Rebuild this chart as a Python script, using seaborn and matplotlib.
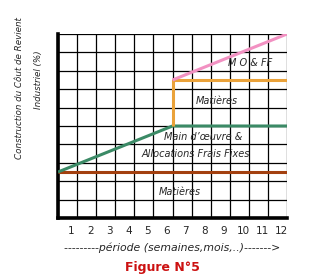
import matplotlib
matplotlib.use("Agg")
import matplotlib.pyplot as plt
import seaborn as sns
import numpy as np
import pandas as pd

sns.set_theme(style="white")
plt.rcParams['font.family'] = ['DejaVu Sans']

# Data
periods = list(range(1, 13))
tick_labels = [str(p) for p in periods]

brown_x = [0, 12]
brown_y = [2.5, 2.5]
green_x = [0, 6, 12]
green_y = [2.5, 5, 5]
orange_x = [6, 6, 12]
orange_y = [5, 7.5, 7.5]
pink_x = [6, 12]
pink_y = [7.5, 10]

labels = ["M O & FF", "Matières", "Main d\u2019\u0153uvre &", "Allocations Frais Fixes", "Matières"]
label_x = [10.05, 8.3, 7.6, 7.2, 6.4]
label_y = [8.45, 6.35, 4.4, 3.5, 1.4]

fig = plt.figure(figsize=(3.19, 2.80), dpi=100)
ax = fig.add_axes([58/319, 1-218/280, (287-58)/319, (218-34)/280])

series = [
    (brown_x, brown_y, "#a3400f"),
    (green_x, green_y, "#3b8a66"),
    (orange_x, orange_y, "#eaa23a"),
    (pink_x, pink_y, "#f291c2"),
]
for xs, ys, col in series:
    df = pd.DataFrame({"x": xs, "y": ys})
    sns.lineplot(data=df, x="x", y="y", ax=ax, color=col, linewidth=2.2,
                 sort=False, estimator=None, solid_capstyle='butt', zorder=3)

ax.set_xlim(0, 12)
ax.set_ylim(0, 10)
ax.set_xticks(range(0, 13))
ax.set_xticklabels([])
ax.set_yticks(range(0, 11))
ax.set_yticklabels([])
ax.set_xticks([p - 0.3 for p in periods], minor=True)
ax.set_xticklabels(tick_labels, minor=True, fontsize=7.5)
ax.tick_params(axis='both', which='both', length=0)
ax.tick_params(axis='x', which='minor', pad=6)
ax.grid(True, which='major', color='black', linewidth=0.9)
ax.set_axisbelow(True)

for s in ['top', 'right']:
    ax.spines[s].set_visible(False)
for s in ['left', 'bottom']:
    ax.spines[s].set_color('black')
    ax.spines[s].set_linewidth(2.6)

ax.set_xlabel("")
ax.set_ylabel("")

for t, x, y in zip(labels, label_x, label_y):
    ax.text(x, y, t, ha='center', va='center', fontsize=7, style='italic', zorder=4)

fig.text(20/319, 1-88/280, "Construction du Côut de Revient", rotation=90,
         ha='center', va='center', fontsize=6.3, style='italic')
fig.text(38/319, 1-80/280, "Industriel (%)", rotation=90,
         ha='center', va='center', fontsize=6.3, style='italic')
fig.text(172/319, 1-248/280, "---------période (semaines,mois,..)------->",
         ha='center', va='center', fontsize=7.8, style='italic')
fig.text(162/319, 1-268/280, "Figure N°5", ha='center', va='center',
         fontsize=9, fontweight='bold', color='#cc1111')

fig.savefig("out.png", dpi=100)
